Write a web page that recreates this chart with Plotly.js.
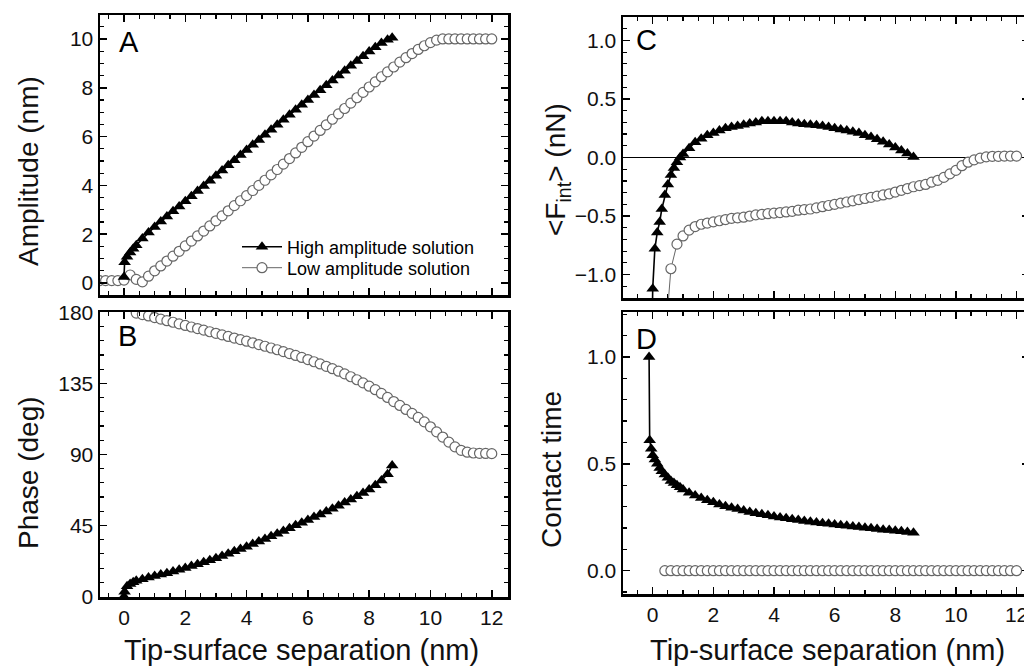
<!DOCTYPE html>
<html>
<head>
<meta charset="utf-8">
<script src="https://cdn.plot.ly/plotly-3.0.1.min.js"></script>
<style>
html,body{margin:0;padding:0;background:#fff;overflow:hidden;}
#plot{width:1034px;height:666px;}
</style>
</head>
<body>
<div id="plot"></div>
<script>
// ---------------- DATA ----------------
// Tip-surface separation (nm) grids
const sepLowA = [-0.8,-0.6,-0.4,-0.2,0.0,0.2,0.4,0.6,0.8,1.0,1.2,1.4,1.6,1.8,2.0,2.2,2.4,2.6,2.8,3.0,3.2,3.4,3.6,3.8,4.0,4.2,4.4,4.6,4.8,5.0,5.2,5.4,5.6,5.8,6.0,6.2,6.4,6.6,6.8,7.0,7.2,7.4,7.6,7.8,8.0,8.2,8.4,8.6,8.8,9.0,9.2,9.4,9.6,9.8,10.0,10.2,10.4,10.6,10.8,11.0,11.2,11.4,11.6,11.8,12.0];
const sepLow = [0.4,0.6,0.8,1.0,1.2,1.4,1.6,1.8,2.0,2.2,2.4,2.6,2.8,3.0,3.2,3.4,3.6,3.8,4.0,4.2,4.4,4.6,4.8,5.0,5.2,5.4,5.6,5.8,6.0,6.2,6.4,6.6,6.8,7.0,7.2,7.4,7.6,7.8,8.0,8.2,8.4,8.6,8.8,9.0,9.2,9.4,9.6,9.8,10.0,10.2,10.4,10.6,10.8,11.0,11.2,11.4,11.6,11.8,12.0];
const sepHighAB = [0,0.02,0.1,0.2,0.3,0.4,0.6,0.8,1.0,1.2,1.4,1.6,1.8,2.0,2.2,2.4,2.6,2.8,3.0,3.2,3.4,3.6,3.8,4.0,4.2,4.4,4.6,4.8,5.0,5.2,5.4,5.6,5.8,6.0,6.2,6.4,6.6,6.8,7.0,7.2,7.4,7.6,7.8,8.0,8.2,8.4,8.6,8.75];
const sepHighCD = [-0.12,-0.1,-0.05,0,0.07,0.15,0.23,0.3,0.4,0.5,0.6,0.7,0.8,0.9,1.0,1.2,1.4,1.6,1.8,2.0,2.2,2.4,2.6,2.8,3.0,3.2,3.4,3.6,3.8,4.0,4.2,4.4,4.6,4.8,5.0,5.2,5.4,5.6,5.8,6.0,6.2,6.4,6.6,6.8,7.0,7.2,7.4,7.6,7.8,8.0,8.2,8.4,8.6];

// Panel A: amplitude (nm)
const ampHigh = [0.25,0.85,1.08,1.25,1.4,1.55,1.82,2.07,2.3,2.52,2.73,2.94,3.14,3.35,3.56,3.77,3.98,4.19,4.4,4.61,4.82,5.03,5.24,5.45,5.66,5.86,6.07,6.28,6.48,6.69,6.89,7.1,7.3,7.5,7.7,7.9,8.1,8.3,8.5,8.7,8.9,9.1,9.29,9.48,9.66,9.83,9.97,10.05];
const ampLow = [0.1,0.1,0.1,0.1,0.12,0.33,0.15,0.05,0.28,0.5,0.7,0.9,1.1,1.3,1.52,1.72,1.93,2.13,2.34,2.55,2.75,2.96,3.17,3.37,3.58,3.79,4.0,4.21,4.43,4.65,4.87,5.1,5.33,5.56,5.79,6.02,6.25,6.48,6.71,6.93,7.15,7.37,7.59,7.81,8.03,8.24,8.45,8.65,8.85,9.05,9.23,9.4,9.57,9.72,9.85,9.95,10.0,10.0,10.0,10.0,10.0,10.0,10.0,10.0,10.0];

// Panel B: phase (deg)
const phaseHigh = [0,3,6.5,8,9,10,11,12,13,14,14.8,15.9,17,18.1,19.3,20.5,21.7,23,24.3,25.7,27.1,28.6,30.1,31.6,33.2,34.8,36.4,38.1,39.8,41.5,43.3,45.1,46.8,48.5,50.3,52,53.8,55.6,57.5,59.5,61.5,63.5,65.5,67.8,70.5,73.5,77.5,83];
const phaseLow = [179.5,178.6,177.7,176.7,175.7,174.7,173.7,172.7,171.7,170.7,169.7,168.7,167.7,166.7,165.7,164.7,163.7,162.7,161.7,160.7,159.6,158.5,157.4,156.3,155.1,153.9,152.7,151.4,150.1,148.7,147.3,145.8,144.3,142.7,141.0,139.2,137.3,135.3,133.2,131,128.6,126.1,123.5,121,118.5,116,113.4,110.6,107.5,104.3,101,97.8,94.8,92.6,91.4,90.9,90.7,90.6,90.5];

// Panel C: mean interaction force (nN)
const forceHigh = [-6,-4,-2,-1.12,-0.78,-0.64,-0.55,-0.44,-0.32,-0.23,-0.15,-0.09,-0.04,0.0,0.03,0.08,0.13,0.16,0.19,0.21,0.23,0.25,0.26,0.27,0.28,0.29,0.3,0.31,0.31,0.31,0.31,0.31,0.3,0.29,0.285,0.28,0.275,0.27,0.26,0.25,0.24,0.23,0.22,0.21,0.19,0.175,0.155,0.135,0.11,0.085,0.06,0.035,0.005];
const forceLow = [-1.6,-0.95,-0.74,-0.67,-0.62,-0.59,-0.57,-0.56,-0.55,-0.54,-0.53,-0.52,-0.515,-0.51,-0.5,-0.49,-0.485,-0.48,-0.475,-0.47,-0.465,-0.46,-0.45,-0.445,-0.44,-0.43,-0.42,-0.41,-0.40,-0.39,-0.38,-0.37,-0.36,-0.35,-0.34,-0.33,-0.32,-0.31,-0.295,-0.28,-0.265,-0.25,-0.24,-0.23,-0.21,-0.195,-0.17,-0.14,-0.11,-0.07,-0.04,-0.02,-0.005,0.005,0.01,0.01,0.012,0.012,0.012];

// Panel D: contact time (fraction)
const contactHigh = [1.0,0.61,0.57,0.54,0.52,0.5,0.48,0.465,0.45,0.435,0.42,0.41,0.40,0.39,0.38,0.365,0.352,0.34,0.33,0.32,0.31,0.302,0.295,0.288,0.281,0.275,0.269,0.264,0.259,0.254,0.249,0.245,0.241,0.237,0.233,0.229,0.226,0.222,0.219,0.216,0.213,0.21,0.207,0.204,0.201,0.198,0.195,0.192,0.19,0.187,0.184,0.181,0.178];
const contactLow = [0,0,0,0,0,0,0,0,0,0,0,0,0,0,0,0,0,0,0,0,0,0,0,0,0,0,0,0,0,0,0,0,0,0,0,0,0,0,0,0,0,0,0,0,0,0,0,0,0,0,0,0,0,0,0,0,0,0,0];

const seriesNames = ["High amplitude solution", "Low amplitude solution"];
const panelLetters = ["A", "B", "C", "D"];
const xTitle = "Tip-surface separation (nm)";
const yTitles = ["Amplitude (nm)", "Phase (deg)", "&lt;F<sub>int</sub>&gt; (nN)", "Contact time"];

// ---------------- LAYOUT HELPERS ----------------
const W = 1034, H = 666;
const fx = p => p / W;
const fy = p => 1 - p / H;
const FONT = "Liberation Sans, Arial, Helvetica, sans-serif";

const hiStyle = {
  mode: "lines+markers",
  line: {color: "#000", width: 1.6},
  marker: {symbol: "triangle-up", size: 11, color: "#000"}
};
const loStyle = {
  mode: "lines+markers",
  line: {color: "#666", width: 1},
  marker: {symbol: "circle", size: 10, color: "#fff", line: {color: "#666", width: 1.2}}
};

function tr(x, y, style, xa, ya, name, legendId) {
  const t = Object.assign({x: x, y: y, xaxis: xa, yaxis: ya, name: name, showlegend: !!legendId, hoverinfo: "skip", cliponaxis: true}, JSON.parse(JSON.stringify(style)));
  if (legendId) {
    t.legend = legendId;
  }
  return t;
}

const data = [
  tr(sepLowA, ampLow, loStyle, "x", "y", seriesNames[1], "legend2"),
  tr(sepHighAB, ampHigh, hiStyle, "x", "y", seriesNames[0], "legend"),
  tr(sepLow, phaseLow, loStyle, "x2", "y2", seriesNames[1], null),
  tr(sepHighAB, phaseHigh, hiStyle, "x2", "y2", seriesNames[0], null),
  tr(sepLow, forceLow, loStyle, "x3", "y3", seriesNames[1], null),
  tr(sepHighCD, forceHigh, hiStyle, "x3", "y3", seriesNames[0], null),
  tr(sepLow, contactLow, loStyle, "x4", "y4", seriesNames[1], null),
  tr(sepHighCD, contactHigh, hiStyle, "x4", "y4", seriesNames[0], null)
];

const MINOR = {ticks: "inside", ticklen: 4, tickwidth: 1.2, tickcolor: "#000", showgrid: false};
function axis(opts, minorDtick) {
  return Object.assign({
    showline: true, linecolor: "#000", linewidth: 2.5, mirror: "allticks",
    ticks: "inside", ticklen: 7, tickwidth: 1.5, tickcolor: "#000",
    showgrid: false, zeroline: false, fixedrange: true,
    tickfont: {family: FONT, size: 21, color: "#111"},
    minor: Object.assign({dtick: minorDtick}, MINOR)
  }, opts);
}

const xABrange = [-0.783, 12.53];
const xCDrange = [-0.98, 12.41];

const legendBase = {
  xanchor: "left", yanchor: "middle",
  bgcolor: "rgba(0,0,0,0)", borderwidth: 0,
  font: {family: FONT, size: 18, color: "#000"},
  itemwidth: 40, tracegroupgap: 0
};

const layout = {
  width: W, height: H,
  margin: {l: 0, r: 0, t: 0, b: 0},
  paper_bgcolor: "#fff", plot_bgcolor: "#fff",
  font: {family: FONT, color: "#111"},
  xaxis: axis({domain: [fx(100), fx(508)], range: xABrange, anchor: "y", dtick: 2, tick0: 0, showticklabels: false}, 0.5),
  yaxis: axis({domain: [fy(295), fy(15)], range: [-0.49, 10.98], anchor: "x", dtick: 2, tick0: 0}, 0.5),
  xaxis2: axis({domain: [fx(100), fx(508)], range: xABrange, anchor: "y2", dtick: 2, tick0: 0}, 0.5),
  yaxis2: axis({domain: [fy(597), fy(312)], range: [-0.3, 180.2], anchor: "x2", dtick: 45, tick0: 0}, 9),
  xaxis3: axis({domain: [fx(623), fx(1029)], range: xCDrange, anchor: "y3", dtick: 2, tick0: 0, showticklabels: false}, 0.5),
  yaxis3: axis({domain: [fy(298), fy(17)], range: [-1.2, 1.2], anchor: "x3", dtick: 0.5, tick0: 0, tickformat: ".1f", zeroline: true, zerolinecolor: "#000", zerolinewidth: 1.2}, 0.1),
  xaxis4: axis({domain: [fx(623), fx(1029)], range: xCDrange, anchor: "y4", dtick: 2, tick0: 0}, 0.5),
  yaxis4: axis({domain: [fy(594), fy(312)], range: [-0.109, 1.21], anchor: "x4", dtick: 0.5, tick0: 0, tickformat: ".1f"}, 0.1),
  showlegend: true,
  legend: Object.assign({x: fx(237), y: fy(247)}, legendBase),
  legend2: Object.assign({x: fx(237), y: fy(268)}, legendBase),
  annotations: []
};

// panel letters
const letterPos = [[117, 42], [116, 336], [634, 40], [634, 339]];
panelLetters.forEach((t, i) => {
  layout.annotations.push({text: t, xref: "paper", yref: "paper", x: fx(letterPos[i][0]), y: fy(letterPos[i][1]),
    xanchor: "left", yanchor: "middle", showarrow: false, font: {family: FONT, size: 29, color: "#000"}});
});
// y-axis titles
const yTitlePos = [[28, 171], [28, 473], [557, 170], [551, 470]];
yTitles.forEach((t, i) => {
  layout.annotations.push({text: t, xref: "paper", yref: "paper", x: fx(yTitlePos[i][0]), y: fy(yTitlePos[i][1]),
    xanchor: "center", yanchor: "middle", textangle: -90, showarrow: false, font: {family: FONT, size: 28, color: "#111"}});
});
// x-axis titles
[[301, 650], [827, 650]].forEach(p => {
  layout.annotations.push({text: xTitle, xref: "paper", yref: "paper", x: fx(p[0]), y: fy(p[1]),
    xanchor: "center", yanchor: "middle", showarrow: false, font: {family: FONT, size: 29, color: "#111"}});
});

Plotly.newPlot("plot", data, layout, {staticPlot: true, displayModeBar: false});
</script>
</body>
</html>
